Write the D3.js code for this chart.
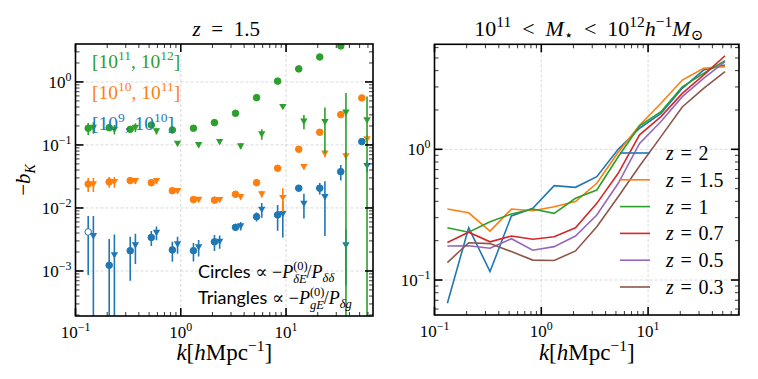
<!DOCTYPE html>
<html>
<head>
<meta charset="utf-8">
<script src="https://cdn.jsdelivr.net/npm/d3@7"></script>
<style>
  body { margin: 0; background: #fff; }
</style>
</head>
<body>
<svg id="chart" width="758" height="379"></svg>
<script>
// k bins (h/Mpc), shared by both panels
const kBins = [0.132, 0.209, 0.331, 0.525, 0.832, 1.32, 2.09, 3.31, 5.25, 8.32, 13.2, 20.9, 33.1, 52.5];

// left panel: -b_K at z = 1.5, three stellar mass bins (negative value = open marker)
const circBlue = [-0.00416, 0.00123, 0.0021, 0.0034, 0.00216, 0.0021, 0.0029, 0.00493, 0.00728, 0.00776, 0.0206, 0.0206, 0.0377, 0.113];
const circBlueErr = [0.0033, 0.002, 0.0014, 0.0009, 0.00076, 0.00068, 0.00083, 0.0006, 0.0012, 0.0034, 0.002, 0.0043, 0.0105, 0.01];
const triBlue = [0.00363, 0.0018, 0.00259, 0.00407, 0.00268, 0.0024, 0.00295, 0.00518, 0.0095, 0.0081, 0.0118, 0.0151, 0.00259, 0.047];
const triBlueErr = [0.0038, 0.002, 0.0013, 0.001, 0.0008, 0.0007, 0.0007, 0.0008, 0.0025, 0.0047, 0.005, 0.0115, 0.002, 0.01];

const circOrange = [0.024, 0.0259, 0.0272, 0.0252, 0.0188, 0.0136, 0.0133, 0.0165, 0.0252, 0.0427, 0.0855, 0.159, 0.303, 0.557];
const circOrangeErr = [0.006, 0.005, 0.003, 0.003, 0.001, 0.001, 0.001, 0.001, 0.001, 0.002, 0.003, 0.005, 0.01, 0.02];
const triOrange = [0.024, 0.026, 0.027, 0.027, 0.0188, 0.0136, 0.0135, 0.0151, 0.0167, 0.0146, 0.0453, 0.0738, 0.067, 0.124];
const triOrangeErr = [0.006, 0.005, 0.003, 0.003, 0.002, 0.001, 0.001, 0.0015, 0.002, 0.006, 0.004, 0.01, 0.01, 0.02];

const circGreen = [0.184, 0.188, 0.177, 0.207, 0.173, 0.184, 0.226, 0.318, 0.563, 1.03, 1.61, 2.49, 3.73, 5.8];
const circGreenErr = [0.04, 0.02, 0.01, 0.01, 0.01, 0.01, 0.01, 0.01, 0.01, 0.02, 0.03, 0.05, 0.08, 0.1];
const triGreen = [0.19, 0.177, 0.19, 0.167, 0.106, 0.101, 0.113, 0.096, 0.149, 0.406, 0.238, 0.234, 0.33, 0.249];
const triGreenErr = [0.04, 0.03, 0.03, 0.02, 0.01, 0.01, 0.01, 0.01, 0.028, 0.03, 0.06, 0.16, 0.34, 0.336];

const massBins = [["9", "10"], ["10", "11"], ["11", "12"]];

// right panel: 10^11 < M* < 10^12, one curve per redshift
const zLabels = ["2", "1.5", "1", "0.7", "0.5", "0.3"];
const bkZ2 = [0.0664, 0.251, 0.116, 0.309, 0.354, 0.527, 0.512, 0.617, 1.0, 1.45, 1.88, 2.93, 4.04, 4.42];
const bkZ15 = [0.349, 0.327, 0.237, 0.349, 0.339, 0.364, 0.398, 0.55, 0.95, 1.53, 2.25, 3.39, 4.17, 4.29];
const bkZ1 = [0.251, 0.232, 0.279, 0.32, 0.349, 0.324, 0.422, 0.488, 0.877, 1.51, 1.94, 3.01, 3.81, 4.76];
const bkZ07 = [0.194, 0.232, 0.196, 0.217, 0.205, 0.214, 0.251, 0.386, 0.655, 1.29, 1.78, 2.68, 3.7, 5.2];
const bkZ05 = [0.182, 0.183, 0.175, 0.207, 0.169, 0.18, 0.217, 0.314, 0.55, 1.11, 1.63, 2.53, 3.49, 4.68];
const bkZ03 = [0.136, 0.193, 0.19, 0.165, 0.142, 0.141, 0.167, 0.256, 0.434, 0.745, 1.25, 2.11, 2.93, 3.93];

const colors = ["#1f77b4", "#ff7f0e", "#2ca02c", "#d62728", "#9467bd", "#8c564b"];
const serif = "'Liberation Serif', 'DejaVu Serif', serif";
const sans = "Lato, 'Noto Sans', sans-serif";
const en = "\u2002";

const svg = d3.select("#chart");

// text with super/subscripts built from tspans
function rich(g, x, y, parts, size, anchor) {
  const t = g.append("text").attr("x", x).attr("y", y)
    .attr("font-family", serif)
    .attr("font-size", size).attr("text-anchor", anchor || "start");
  let level = 0;
  let prev = null;
  parts.forEach((p) => {
    const lv = p.lv || 0;
    const s = t.append("tspan").text(p.t).attr("dy", lv - level);
    level = lv;
    if (p.sz) s.attr("font-size", p.sz);
    if (p.it) s.attr("font-style", "italic");
    if (p.fam) s.attr("font-family", p.fam);
    if (p.back && prev) s.attr("dx", -prev.node().getComputedTextLength());
    prev = s;
  });
  return t;
}

function pow10(e, size) {
  const sup = e < 0 ? "\u2212" + Math.abs(e) : String(e);
  return [{ t: "10" }, { t: sup, sz: size * 0.7, lv: -size * 0.42 }];
}

function logTicks(domain) {
  const lo = Math.floor(Math.log10(domain[0]));
  const hi = Math.ceil(Math.log10(domain[1]));
  const major = [], minor = [];
  for (let e = lo; e <= hi; e++) {
    const v = Math.pow(10, e);
    if (v >= domain[0] * 0.999 && v <= domain[1] * 1.001) major.push(e);
    for (let m = 2; m <= 9; m++) {
      const mv = m * v;
      if (mv > domain[0] && mv < domain[1]) minor.push(mv);
    }
  }
  return { major, minor };
}

function frame(g, x, y, id) {
  const [x0, x1] = x.range();
  const [y1, y0] = y.range();
  g.append("clipPath").attr("id", id).append("rect")
    .attr("x", x0).attr("y", y0).attr("width", x1 - x0).attr("height", y1 - y0);

  const xt = logTicks(x.domain());
  const yt = logTicks(y.domain());
  const grid = g.append("g").attr("stroke", "#d0d0d0").attr("stroke-width", 0.8)
    .attr("stroke-dasharray", "3,2");
  xt.major.forEach((e) => grid.append("line").attr("x1", x(10 ** e)).attr("x2", x(10 ** e)).attr("y1", y0).attr("y2", y1));
  yt.major.forEach((e) => grid.append("line").attr("y1", y(10 ** e)).attr("y2", y(10 ** e)).attr("x1", x0).attr("x2", x1));
  return { xt, yt, x0, x1, y0, y1 };
}

function axesOver(g, f, x, y) {
  const { xt, yt, x0, x1, y0, y1 } = f;
  const tk = g.append("g").attr("stroke", "#000");
  xt.major.forEach((e) => {
    const px = x(10 ** e);
    tk.append("line").attr("x1", px).attr("x2", px).attr("y1", y1).attr("y2", y1 - 8).attr("stroke-width", 1.6);
    tk.append("line").attr("x1", px).attr("x2", px).attr("y1", y0).attr("y2", y0 + 8).attr("stroke-width", 1.6);
    rich(g, px, y1 + 22, pow10(e, 17), 17, "middle");
  });
  xt.minor.forEach((v) => {
    const px = x(v);
    tk.append("line").attr("x1", px).attr("x2", px).attr("y1", y1).attr("y2", y1 - 4).attr("stroke-width", 0.8);
    tk.append("line").attr("x1", px).attr("x2", px).attr("y1", y0).attr("y2", y0 + 4).attr("stroke-width", 0.8);
  });
  yt.major.forEach((e) => {
    const py = y(10 ** e);
    tk.append("line").attr("y1", py).attr("y2", py).attr("x1", x0).attr("x2", x0 + 8).attr("stroke-width", 1.6);
    tk.append("line").attr("y1", py).attr("y2", py).attr("x1", x1).attr("x2", x1 - 8).attr("stroke-width", 1.6);
    rich(g, x0 - 4, py + 6, pow10(e, 17), 17, "end");
  });
  yt.minor.forEach((v) => {
    const py = y(v);
    tk.append("line").attr("y1", py).attr("y2", py).attr("x1", x0).attr("x2", x0 + 4).attr("stroke-width", 0.8);
    tk.append("line").attr("y1", py).attr("y2", py).attr("x1", x1).attr("x2", x1 - 4).attr("stroke-width", 0.8);
  });
  g.append("rect").attr("x", x0).attr("y", y0).attr("width", x1 - x0).attr("height", y1 - y0)
    .attr("fill", "none").attr("stroke", "#000").attr("stroke-width", 1.6);

  // x label k[h Mpc^-1]
  rich(g, (x0 + x1) / 2, 360, [
    { t: "k", it: true }, { t: "[" }, { t: "h", it: true }, { t: "Mpc" },
    { t: "\u22121", sz: 15.5, lv: -9 }, { t: "]", lv: 0 }
  ], 23, "middle");
}

// ---------- left panel ----------
const xL = d3.scaleLog().domain([0.1, 67]).range([75.5, 373]);
const yL = d3.scaleLog().domain([1.93e-4, 4.0]).range([316, 44]);
const gL = svg.append("g");
const fL = frame(gL, xL, yL, "clipL");
const plotL = gL.append("g").attr("clip-path", "url(#clipL)");

const triShift = 1.12; // triangles drawn slightly right of circles
const series = [
  { circ: circBlue, circErr: circBlueErr, tri: triBlue, triErr: triBlueErr, color: colors[0] },
  { circ: circOrange, circErr: circOrangeErr, tri: triOrange, triErr: triOrangeErr, color: colors[1] },
  { circ: circGreen, circErr: circGreenErr, tri: triGreen, triErr: triGreenErr, color: colors[2] }
];
const yMin = yL.domain()[0];
const tri = "M-3.7,-2.7L3.7,-2.7L0,3.7Z";

series.forEach((s) => {
  const circData = kBins.map((k, i) => ({ k, v: s.circ[i], e: s.circErr[i] }));
  const triData = kBins.map((k, i) => ({ k: k * triShift, v: s.tri[i], e: s.triErr[i] }));
  const g = plotL.append("g");
  [circData, triData].forEach((data) => {
    g.selectAll(null).data(data).join("line")
      .attr("x1", (d) => xL(d.k)).attr("x2", (d) => xL(d.k))
      .attr("y1", (d) => yL(Math.max(Math.abs(d.v) - d.e, yMin)))
      .attr("y2", (d) => yL(Math.abs(d.v) + d.e))
      .attr("stroke", s.color).attr("stroke-width", 1.6);
  });
  g.selectAll(null).data(circData).join("circle")
    .attr("cx", (d) => xL(d.k)).attr("cy", (d) => yL(Math.abs(d.v))).attr("r", 3.3)
    .attr("fill", (d) => (d.v < 0 ? "#fff" : s.color))
    .attr("stroke", s.color).attr("stroke-width", 1);
  g.selectAll(null).data(triData).join("path")
    .attr("d", tri)
    .attr("transform", (d) => `translate(${xL(d.k)},${yL(Math.abs(d.v))})`)
    .attr("fill", s.color);
});

axesOver(gL, fL, xL, yL);

// title and y label
rich(gL, (fL.x0 + fL.x1) / 2 + 2, 36, [{ t: "z", it: true }, { t: en + "=" + en + "1.5" }], 21, "middle");
const yLab = rich(gL, 0, 0, [{ t: "\u2212" }, { t: "b", it: true }, { t: "K", it: true, sz: 14, lv: 5 }], 21, "middle");
yLab.attr("transform", "translate(30,180) rotate(-90)");

// mass-bin labels
massBins.forEach((m, i) => {
  rich(gL, 92, 130 - 31 * i, [
    { t: "[10" }, { t: m[0], sz: 13.5, lv: -8 }, { t: ", 10", lv: 0 },
    { t: m[1], sz: 13.5, lv: -8 }, { t: "]", lv: 0 }
  ], 19.5).attr("fill", series[i].color);
});

// estimator notes
rich(gL, 198, 278, [
  { t: "Circles ", fam: sans }, { t: "\u221d \u2212" }, { t: "P", it: true },
  { t: "(0)", sz: 12.5, lv: -8 }, { t: "\u03b4E", it: true, sz: 12.5, lv: 5, back: true },
  { t: "/", lv: 0 }, { t: "P", it: true }, { t: "\u03b4\u03b4", it: true, sz: 12.5, lv: 4 }
], 18);
rich(gL, 198, 304, [
  { t: "Triangles ", fam: sans }, { t: "\u221d \u2212" }, { t: "P", it: true },
  { t: "(0)", sz: 12.5, lv: -8 }, { t: "gE", it: true, sz: 12.5, lv: 5, back: true },
  { t: "/", lv: 0 }, { t: "P", it: true }, { t: "\u03b4g", it: true, sz: 12.5, lv: 4 }
], 18);

// ---------- right panel ----------
const xR = d3.scaleLog().domain([0.1, 71]).range([434.5, 739]);
const yR = d3.scaleLog().domain([0.054, 6.36]).range([315, 44.3]);
const gR = svg.append("g");
const fR = frame(gR, xR, yR, "clipR");
const plotR = gR.append("g").attr("clip-path", "url(#clipR)");

const curves = [bkZ2, bkZ15, bkZ1, bkZ07, bkZ05, bkZ03];
const line = d3.line().x((d) => xR(d[0])).y((d) => yR(d[1]));
curves.forEach((c, i) => {
  plotR.append("path")
    .attr("d", line(kBins.map((k, j) => [k, c[j]])))
    .attr("fill", "none").attr("stroke", colors[i]).attr("stroke-width", 1.6);
});

// legend
zLabels.forEach((z, i) => {
  const ly = 153 + 26.8 * i;
  gR.append("line").attr("x1", 620).attr("x2", 650).attr("y1", ly).attr("y2", ly)
    .attr("stroke", colors[i]).attr("stroke-width", 1.6);
  rich(gR, 666, ly + 7, [{ t: "z", it: true }, { t: "\u2004=\u2004" + z }], 20);
});

axesOver(gR, fR, xR, yR);

rich(gR, (fR.x0 + fR.x1) / 2 + 2, 36, [
  { t: "10" }, { t: "11", sz: 15.5, lv: -9 }, { t: en + "<" + en, lv: 0 }, { t: "M", it: true },
  { t: "\u22c6", sz: 15, lv: 4 }, { t: en + "<" + en + "10", lv: 0 }, { t: "12", sz: 15.5, lv: -9 },
  { t: "h", it: true, lv: 0 }, { t: "\u22121", sz: 15.5, lv: -9 }, { t: "M", it: true, lv: 0 },
  { t: "\u2299", sz: 15, lv: 4 }
], 22, "middle");
</script>
</body>
</html>
